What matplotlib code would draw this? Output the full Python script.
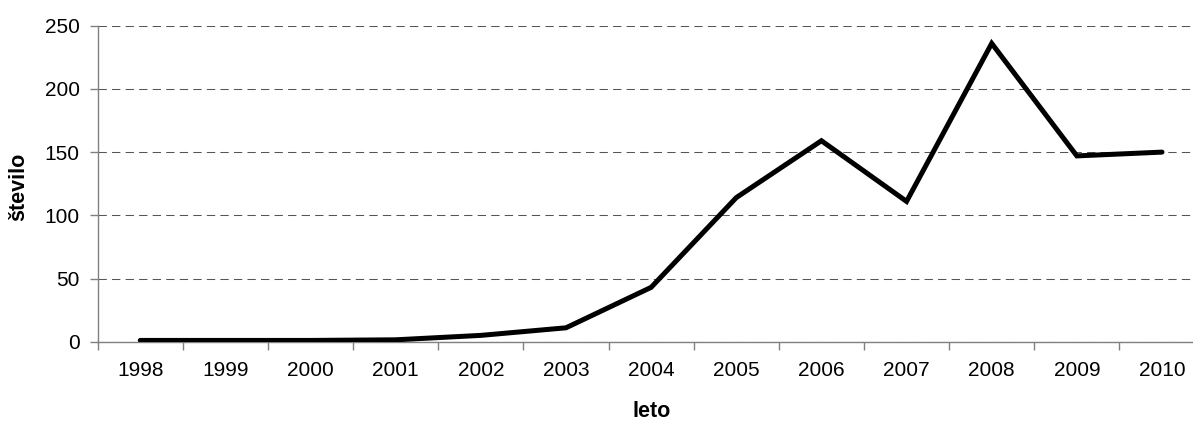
import matplotlib
matplotlib.use("Agg")

import matplotlib.pyplot as plt
from matplotlib.ticker import FixedLocator, NullFormatter

plt.rcParams["font.family"] = ["Liberation Sans", "DejaVu Sans"]

years = ["1998", "1999", "2000", "2001", "2002", "2003", "2004",
         "2005", "2006", "2007", "2008", "2009", "2010"]
counts = [1, 1, 1, 1.5, 5, 11, 43, 114, 159, 111, 236, 147, 150]

fig = plt.figure(figsize=(11.93, 4.23), dpi=100)
ax = fig.add_axes([0.0819, 0.1922, 0.9278, 0.7470])

x = list(range(len(years)))
ax.plot(x, counts, color="black", linewidth=3.6, solid_joinstyle="miter",
        solid_capstyle="round", zorder=3)

ax.set_xlim(-0.5, len(years) - 0.5)
ax.set_ylim(0, 250)
ax.set_yticks([0, 50, 100, 150, 200, 250])

ax.set_xticks(x)
ax.set_xticklabels(years)
ax.tick_params(axis="x", which="major", length=0, pad=14, labelsize=15)
ax.xaxis.set_minor_locator(FixedLocator([i - 0.5 for i in range(len(years) + 1)]))
ax.xaxis.set_minor_formatter(NullFormatter())
ax.tick_params(axis="x", which="minor", length=6, width=1, color="#808080")
ax.tick_params(axis="y", length=6, width=1, color="#808080", labelsize=15, pad=7)

ax.yaxis.grid(True, linestyle=(0, (8, 5)), color="#555555", linewidth=0.75)
ax.set_axisbelow(True)

for side in ["top", "right"]:
    ax.spines[side].set_visible(False)
for side in ["left", "bottom"]:
    ax.spines[side].set_color("#808080")
    ax.spines[side].set_linewidth(1)

ax.set_xlabel("leto", fontsize=15.5, fontweight="bold", labelpad=15)
fig.text(19 / 1193, 1 - 187 / 423, "število", rotation=90, ha="center",
         va="center", fontsize=15.5, fontweight="bold")

fig.savefig("out.png", dpi=100)
plt.close(fig)
